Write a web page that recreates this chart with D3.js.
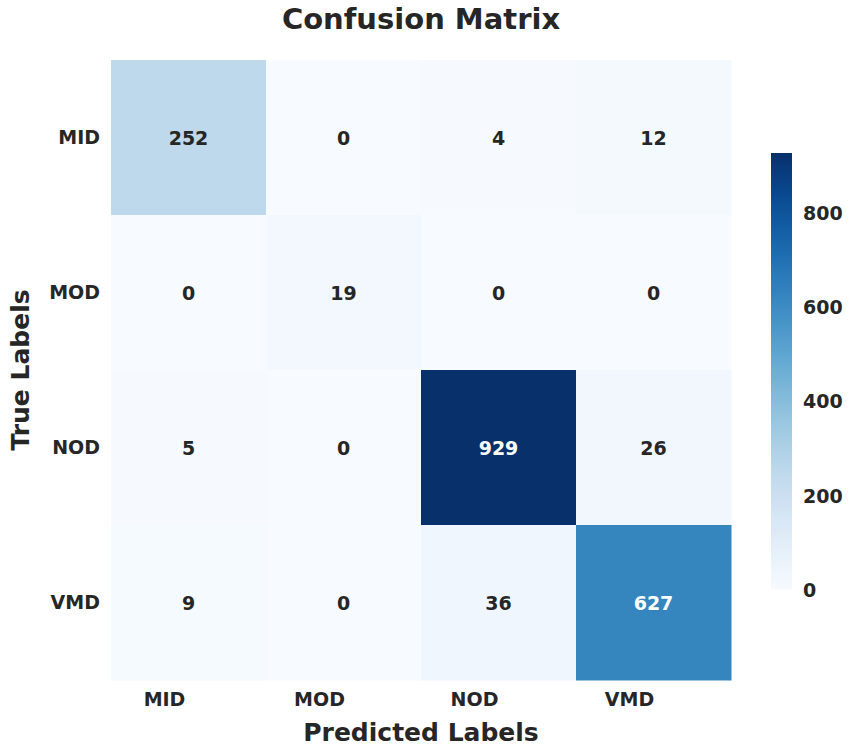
<!DOCTYPE html>
<html>
<head>
<meta charset="utf-8">
<script src="https://cdn.jsdelivr.net/npm/d3@7"></script>
<style>
  html, body { margin: 0; padding: 0; background: #ffffff; }
  svg { display: block; font-family: "DejaVu Sans", sans-serif; }
</style>
</head>
<body>
<svg id="chart" width="851" height="752"></svg>
<script>
const title = "Confusion Matrix";
const xTitle = "Predicted Labels";
const yTitle = "True Labels";
const trueLabels = ["MID", "MOD", "NOD", "VMD"];
const predLabels = ["MID", "MOD", "NOD", "VMD"];
const rowMID = [252, 0, 4, 12];
const rowMOD = [0, 19, 0, 0];
const rowNOD = [5, 0, 929, 26];
const rowVMD = [9, 0, 36, 627];
const counts = [rowMID, rowMOD, rowNOD, rowVMD];
const colorbarTicks = [0, 200, 400, 600, 800];

const svg = d3.select("#chart");
const mLeft = 111, mTop = 60, mSize = 620;
const vmax = d3.max(counts.flat());

const x = d3.scaleBand().domain(predLabels).range([mLeft, mLeft + mSize]);
const y = d3.scaleBand().domain(trueLabels).range([mTop, mTop + mSize]);
const color = d3.scaleSequential(d3.interpolateBlues).domain([0, vmax]);

const cells = [];
counts.forEach((row, i) => row.forEach((v, j) => cells.push({ r: trueLabels[i], c: predLabels[j], v })));

svg.append("g").selectAll("rect").data(cells).join("rect")
  .attr("x", d => x(d.c)).attr("y", d => y(d.r))
  .attr("width", x.bandwidth() + 0.5).attr("height", y.bandwidth() + 0.5)
  .attr("fill", d => color(d.v));

svg.append("g").selectAll("text").data(cells).join("text")
  .attr("x", d => x(d.c) + x.bandwidth() / 2)
  .attr("y", d => y(d.r) + y.bandwidth() / 2)
  .attr("text-anchor", "middle").attr("dominant-baseline", "central")
  .attr("font-size", 19).attr("font-weight", "bold")
  .attr("fill", d => d.v / vmax > 0.55 ? "#ffffff" : "#262626")
  .text(d => d.v);

// Row tick labels
const yAxis = svg.append("g").attr("transform", `translate(${mLeft},0)`)
  .call(d3.axisLeft(y).tickSize(0).tickPadding(11));
yAxis.select(".domain").remove();
yAxis.selectAll("text").attr("font-size", 19).attr("font-weight", "bold")
  .attr("fill", "#262626").attr("font-family", "DejaVu Sans");

// Column tick labels
const xAxis = svg.append("g").attr("transform", `translate(-24,${mTop + mSize})`)
  .call(d3.axisBottom(x).tickSize(0).tickPadding(13));
xAxis.select(".domain").remove();
xAxis.selectAll("text").attr("font-size", 19).attr("font-weight", "bold")
  .attr("fill", "#262626").attr("font-family", "DejaVu Sans");

// Titles
svg.append("text").attr("x", mLeft + mSize / 2).attr("y", 29)
  .attr("text-anchor", "middle").attr("font-size", 29).attr("font-weight", "bold")
  .attr("fill", "#262626").text(title);
svg.append("text").attr("x", mLeft + mSize / 2).attr("y", 741)
  .attr("text-anchor", "middle").attr("font-size", 25).attr("font-weight", "bold")
  .attr("fill", "#262626").text(xTitle);
svg.append("text").attr("transform", `translate(29,${mTop + mSize / 2}) rotate(-90)`)
  .attr("text-anchor", "middle").attr("font-size", 25).attr("font-weight", "bold")
  .attr("fill", "#262626").text(yTitle);

// Colorbar
const cbX = 771, cbW = 21, cbTop = 153, cbBottom = 590;
const cbScale = d3.scaleLinear().domain([0, vmax]).range([cbBottom, cbTop]);
const defs = svg.append("defs");
const grad = defs.append("linearGradient").attr("id", "cbgrad")
  .attr("x1", "0").attr("y1", "1").attr("x2", "0").attr("y2", "0");
d3.range(0, 1.0001, 0.02).forEach(t => {
  grad.append("stop").attr("offset", t).attr("stop-color", color(t * vmax));
});
svg.append("rect").attr("x", cbX).attr("y", cbTop).attr("width", cbW)
  .attr("height", cbBottom - cbTop).attr("fill", "url(#cbgrad)");
const cbAxis = svg.append("g").attr("transform", `translate(${cbX + cbW},0)`)
  .call(d3.axisRight(cbScale).tickValues(colorbarTicks).tickSize(0).tickPadding(11));
cbAxis.select(".domain").remove();
cbAxis.selectAll("text").attr("font-size", 19).attr("font-weight", "bold")
  .attr("fill", "#262626").attr("font-family", "DejaVu Sans");
</script>
</body>
</html>
